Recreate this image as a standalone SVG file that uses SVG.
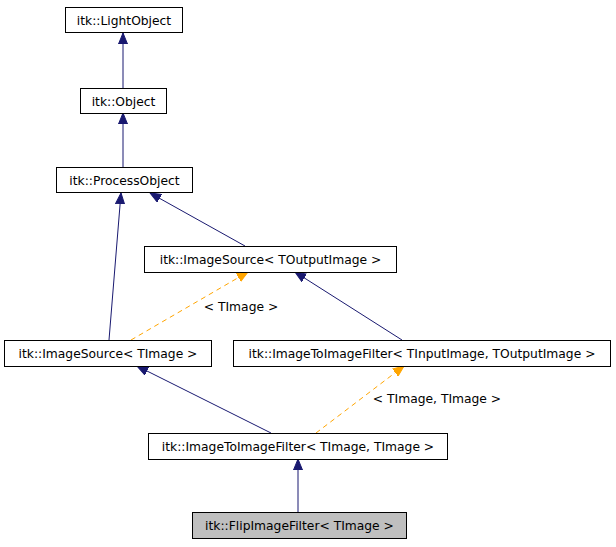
<svg xmlns="http://www.w3.org/2000/svg" width="616" height="547" viewBox="0 0 616 547">
<style>
.box{fill:#fff;stroke:#000;stroke-width:1}
.cur{fill:#bfbfbf;stroke:#000;stroke-width:1}
text{font-family:"DejaVu Sans",sans-serif;font-size:12.3px;fill:#000;text-anchor:middle}
.inh{stroke:#191970;stroke-width:1;fill:none}
.tpl{stroke:#ffa500;stroke-width:1;fill:none;stroke-dasharray:5,4}
</style>
<defs>
<marker id="an" markerUnits="userSpaceOnUse" markerWidth="12" markerHeight="10" refX="11" refY="5" orient="auto"><path d="M0,0.5 L11,5 L0,9.5 z" fill="#191970" stroke="#191970"/></marker>
<marker id="ao" markerUnits="userSpaceOnUse" markerWidth="12" markerHeight="10" refX="11" refY="5" orient="auto"><path d="M0,0.5 L11,5 L0,9.5 z" fill="#ffa500" stroke="#ffa500"/></marker>
</defs>
<g id="connectors">
<line class="inh" x1="123" y1="88" x2="123" y2="33" marker-end="url(#an)"/>
<line class="inh" x1="123" y1="167" x2="123" y2="113" marker-end="url(#an)"/>
<line class="inh" x1="245" y1="246" x2="150" y2="193" marker-end="url(#an)"/>
<line class="inh" x1="109" y1="340" x2="121" y2="193" marker-end="url(#an)"/>
<line class="tpl" x1="131" y1="340" x2="248" y2="272" marker-end="url(#ao)"/>
<line class="inh" x1="402" y1="340" x2="295" y2="272" marker-end="url(#an)"/>
<line class="inh" x1="271" y1="433" x2="137" y2="366" marker-end="url(#an)"/>
<line class="tpl" x1="316" y1="433" x2="404" y2="366" marker-end="url(#ao)"/>
<line class="inh" x1="298" y1="512" x2="298" y2="459" marker-end="url(#an)"/>
<text x="241" y="311">&lt; TImage &gt;</text>
<text x="437" y="403">&lt; TImage, TImage &gt;</text>
</g>
<g id="LightObject"><rect class="box" x="65.5" y="7.5" width="117" height="25"/><text x="124" y="24.5">itk::LightObject</text></g>
<g id="Object"><rect class="box" x="80.5" y="88.5" width="86" height="25"/><text x="123.5" y="105.5">itk::Object</text></g>
<g id="ProcessObject"><rect class="box" x="56.5" y="167.5" width="136" height="25"/><text x="124.5" y="184.5">itk::ProcessObject</text></g>
<g id="ImageSourceTOutput"><rect class="box" x="144.5" y="246.5" width="252" height="26"/><text x="270.5" y="264">itk::ImageSource&lt; TOutputImage &gt;</text></g>
<g id="ImageSourceTImage"><rect class="box" x="4.5" y="340.5" width="207" height="26"/><text x="108" y="358">itk::ImageSource&lt; TImage &gt;</text></g>
<g id="ImageToImageFilterTInputTOutput"><rect class="box" x="233.5" y="340.5" width="377" height="26"/><text x="422" y="358">itk::ImageToImageFilter&lt; TInputImage, TOutputImage &gt;</text></g>
<g id="ImageToImageFilterTImage"><rect class="box" x="148.5" y="433.5" width="299" height="26"/><text x="298" y="451">itk::ImageToImageFilter&lt; TImage, TImage &gt;</text></g>
<g id="FlipImageFilter"><rect class="cur" x="192.5" y="512.5" width="214" height="26"/><text x="299.5" y="530">itk::FlipImageFilter&lt; TImage &gt;</text></g>
</svg>
